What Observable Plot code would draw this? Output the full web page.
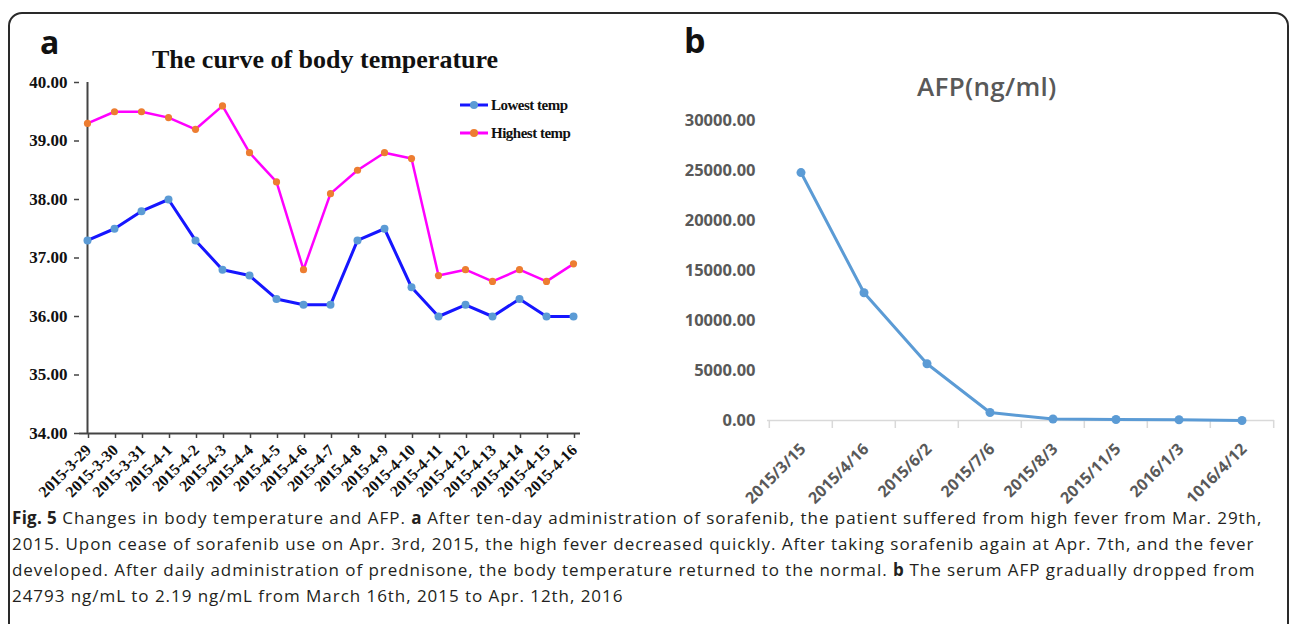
<!DOCTYPE html>
<html>
<head>
<meta charset="utf-8">
<script src="https://cdn.jsdelivr.net/npm/d3@7"></script>
<script src="https://cdn.jsdelivr.net/npm/@observablehq/plot@0.6"></script>
<style>
html,body{margin:0;padding:0;background:#fff;}
#page{position:relative;width:1290px;height:624px;overflow:hidden;background:#fff;}
.box{position:absolute;left:8px;top:12px;width:1281px;height:800px;border:2px solid #2a2a2a;border-radius:14px;box-sizing:border-box;}
.abs{position:absolute;white-space:nowrap;}
.panel{font-family:"Open Sans",sans-serif;font-weight:700;color:#111;}
.ttl{font-family:"Liberation Serif",serif;font-weight:700;color:#111;}
.leg{font-family:"Liberation Serif",serif;font-weight:700;font-size:15px;color:#111;display:flex;align-items:center;letter-spacing:-0.5px;}
.leg svg{margin-right:3px;}
.cap{font-family:"Open Sans",sans-serif;font-size:17px;letter-spacing:0.95px;color:#231f20;line-height:26px;}
.cap b{font-weight:700;letter-spacing:0.3px;}
</style>
</head>
<body>
<div id="page">
  <div class="box"></div>
  <div class="abs panel" style="left:40px;top:20px;font-size:32px;">a</div>
  <div class="abs ttl" id="title" style="left:152px;top:45px;font-size:26px;">The curve of body temperature</div>
  <div class="abs panel" style="left:684px;top:17px;font-size:34px;">b</div>
  <div class="abs" id="afpTitle" style="left:917px;top:68px;font-family:'Open Sans',sans-serif;font-weight:600;font-size:26px;letter-spacing:0.3px;color:#595959;">AFP(ng/ml)</div>
  <div id="legend"></div>
  <div id="left" class="abs" style="left:0;top:0;"></div>
  <div id="right" class="abs" style="left:640px;top:0;"></div>
  <div class="abs cap" style="left:12px;top:505px;">
    <div><b>Fig. 5</b> Changes in body temperature and AFP. <b>a</b> After ten-day administration of sorafenib, the patient suffered from high fever from Mar. 29th,</div>
    <div>2015. Upon cease of sorafenib use on Apr. 3rd, 2015, the high fever decreased quickly. After taking sorafenib again at Apr. 7th, and the fever</div>
    <div>developed. After daily administration of prednisone, the body temperature returned to the normal. <b>b</b> The serum AFP gradually dropped from</div>
    <div>24793 ng/mL to 2.19 ng/mL from March 16th, 2015 to Apr. 12th, 2016</div>
  </div>
</div>
<script>
// ---- Data: panel a (body temperature) ----
const tempDates = ["2015-3-29","2015-3-30","2015-3-31","2015-4-1","2015-4-2","2015-4-3","2015-4-4","2015-4-5","2015-4-6","2015-4-7","2015-4-8","2015-4-9","2015-4-10","2015-4-11","2015-4-12","2015-4-13","2015-4-14","2015-4-15","2015-4-16"];
const lowestTemp = [37.3,37.5,37.8,38.0,37.3,36.8,36.7,36.3,36.2,36.2,37.3,37.5,36.5,36.0,36.2,36.0,36.3,36.0,36.0];
const highestTemp = [39.3,39.5,39.5,39.4,39.2,39.6,38.8,38.3,36.8,38.1,38.5,38.8,38.7,36.7,36.8,36.6,36.8,36.6,36.9];
const tempTicks = [34,35,36,37,38,39,40];
const seriesNames = ["Lowest temp","Highest temp"];

// ---- Data: panel b (AFP) ----
const afpDates = ["2015/3/15","2015/4/16","2015/6/2","2015/7/6","2015/8/3","2015/11/5","2016/1/3","1016/4/12"];
const afpValues = [24793,12770,5670,800,150,100,80,2.19];
const afpTicks = [0,5000,10000,15000,20000,25000,30000];

const lowRows = tempDates.map((d,i)=>({date:d, v:lowestTemp[i]}));
const highRows = tempDates.map((d,i)=>({date:d, v:highestTemp[i]}));
const afpRows = afpDates.map((d,i)=>({date:d, v:afpValues[i]}));

const lowColor = "#1616ff", lowDot = "#5b9bd5";
const highColor = "#ff00ff", highDot = "#ed7d31";
const axisColor = "#444";

const leftChart = Plot.plot({
  width: 620, height: 510,
  marginLeft: 79, marginRight: 40, marginTop: 82, marginBottom: 77,
  style: {fontFamily: "'Liberation Serif', serif", fontWeight: "bold", color: "#111", background: "transparent", overflow: "visible"},
  x: {type: "point", domain: tempDates, padding: 0, label: null},
  y: {domain: [34, 40], label: null},
  marks: [
    Plot.ruleY([34], {stroke: axisColor, strokeWidth: 2}),
    Plot.ruleX([tempDates[0]], {stroke: axisColor, strokeWidth: 2}),
    Plot.axisY(tempTicks, {tickFormat: d => d.toFixed(2), tickSize: 5, tickPadding: 7, fontSize: 17, stroke: axisColor, strokeWidth: 1.5, strokeOpacity: 1}),
    Plot.axisX({tickSize: 5, tickPadding: 9, tickRotate: -45, fontSize: 16, stroke: axisColor, strokeWidth: 1.5, strokeOpacity: 1, dx: 1}),
    Plot.line(lowRows, {x: "date", y: "v", stroke: lowColor, strokeWidth: 3}),
    Plot.dot(lowRows, {x: "date", y: "v", r: 4, fill: lowDot}),
    Plot.line(highRows, {x: "date", y: "v", stroke: highColor, strokeWidth: 2.5}),
    Plot.dot(highRows, {x: "date", y: "v", r: 3.6, fill: highDot})
  ]
});
document.getElementById("left").appendChild(leftChart);

const rW = 650, rML = 127, rMR = 16;
const bw = (rW - rML - rMR) / afpDates.length;
const rightChart = Plot.plot({
  width: rW, height: 510,
  marginLeft: rML, marginRight: rMR, marginTop: 120, marginBottom: 90,
  style: {fontFamily: "'Open Sans', sans-serif", fontWeight: "bold", color: "#595959", background: "transparent", overflow: "visible"},
  x: {type: "band", domain: afpDates, padding: 0, label: null},
  y: {domain: [0, 30000], label: null},
  marks: [
    Plot.ruleY([0], {stroke: "#d9d9d9", strokeWidth: 1.5}),
    Plot.axisX({tickSize: 8, tickFormat: () => "", dx: -bw / 2, stroke: "#d9d9d9", strokeWidth: 1.5, strokeOpacity: 1}),
    Plot.axisX([afpDates[afpDates.length - 1]], {tickSize: 8, tickFormat: () => "", dx: bw / 2, stroke: "#d9d9d9", strokeWidth: 1.5, strokeOpacity: 1}),
    Plot.axisX({tickSize: 0, tickPadding: 26, tickRotate: -45, fontSize: 16, fill: "#595959", dx: 2}),
    Plot.axisY(afpTicks, {tickFormat: d => d.toFixed(2), tickSize: 0, tickPadding: 12, fontSize: 16.5, fill: "#595959"}),
    Plot.line(afpRows, {x: "date", y: "v", stroke: "#5b9bd5", strokeWidth: 3}),
    Plot.dot(afpRows, {x: "date", y: "v", r: 4.5, fill: "#5b9bd5"})
  ]
});
document.getElementById("right").appendChild(rightChart);

// Legend for panel a
const legend = document.getElementById("legend");
const legendItems = [
  {name: seriesNames[0], line: lowColor, dot: lowDot, top: 95},
  {name: seriesNames[1], line: highColor, dot: highDot, top: 123}
];
legendItems.forEach(it => {
  const div = document.createElement("div");
  div.className = "abs leg";
  div.style.left = "460px";
  div.style.top = it.top + "px";
  div.innerHTML = `<svg width="28" height="20"><line x1="0" x2="28" y1="10" y2="10" stroke="${it.line}" stroke-width="3"/><circle cx="14" cy="10" r="4" fill="${it.dot}"/></svg><span>${it.name}</span>`;
  legend.appendChild(div);
});
</script>
</body>
</html>
